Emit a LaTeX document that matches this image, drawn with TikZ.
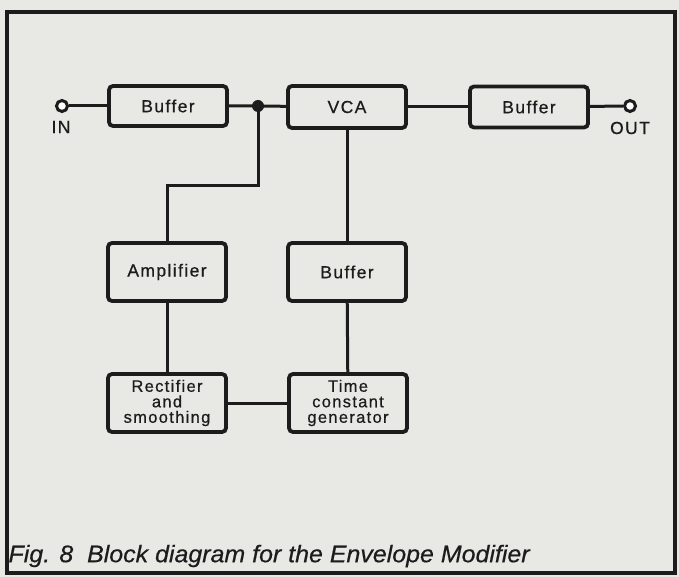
\documentclass[tikz,border=0pt]{standalone}
\usepackage{xcolor}
\usepackage{fontspec}
\usepackage{tikz}
\newfontfamily\blockfont[LetterSpace=8, FakeBold=0.6]{Liberation Sans}
\newfontfamily\capfont[FakeStretch=1.04, FakeBold=0.5]{Liberation Sans}
\definecolor{sheetGrey}{HTML}{E8E8E4}
\definecolor{inkBlack}{HTML}{1C1C1C}
\tikzset{
  blk/.style={draw=inkBlack, line width=3.8pt, rounded corners=4pt, fill=sheetGrey,
    minimum width=118pt, align=center, inner sep=0pt,
    font=\blockfont\fontsize{17.5}{15}\selectfont, text=inkBlack},
  tall/.style={blk, minimum height=58pt, font=\blockfont\fontsize{16.5}{15.5}\selectfont},
  wire/.style={inkBlack, line width=3pt},
  term/.style={circle, draw=inkBlack, line width=3pt, fill=white, minimum size=11pt, inner sep=0pt},
  tlbl/.style={font=\blockfont\fontsize{17.5}{15}\selectfont, text=inkBlack},
}
\begin{document}
\begin{tikzpicture}[x=1pt, y=-1pt]
  \useasboundingbox (0,0) rectangle (679,577);
  \fill[sheetGrey] (0,0) rectangle (679,577);
  \draw[inkBlack, line width=4.5pt] (7,12) rectangle (675,573);
  % top row
  \node[term] (in) at (62,106) {};
  \node[tlbl] (inlbl) at (61,127) {IN};
  \node[blk, minimum height=40pt] (bufin) at (168,106) {Buffer};
  \node[blk, minimum height=42pt] (vca) at (347,107) {VCA};
  \node[blk, minimum height=41pt] (bufout) at (529,107) {Buffer};
  \node[term] (out) at (630,106) {};
  \node[tlbl] (outlbl) at (630,128) {OUT};
  \coordinate (jn) at (258,106);
  \coordinate (kink) at (258,186);
  % side chain
  \node[tall, font=\blockfont\fontsize{17.5}{15}\selectfont] (amp) at (167,272) {Amplifier};
  \node[tall, font=\blockfont\fontsize{17.5}{15}\selectfont] (bufmid) at (347,272) {Buffer};
  \node[tall] (rect) at (167,403) {Rectifier\\and\\smoothing};
  \node[tall] (tcg) at (348,403) {Time\\constant\\generator};
  % wiring
  \draw[wire] (in) -- (bufin);
  \draw[wire] (bufin) -- (jn) -- (vca);
  \draw[wire] (vca) -- (bufout);
  \draw[wire] (bufout) -- (out);
  \draw[wire] (jn) -- (kink) -| (amp.north);
  \draw[wire] (amp) -- (rect);
  \draw[wire] (vca.south) -- (bufmid.north);
  \draw[wire] (bufmid) -- (tcg);
  \draw[wire] (rect) -- (tcg);
  \fill[inkBlack] (jn) circle (6pt);
  % caption
  \node[anchor=west, text=inkBlack, font=\capfont\itshape\fontsize{24}{26}\selectfont]
    (cap) at (5,556) {Fig. 8\ \ Block diagram for the Envelope Modifier};
\end{tikzpicture}
\end{document}
